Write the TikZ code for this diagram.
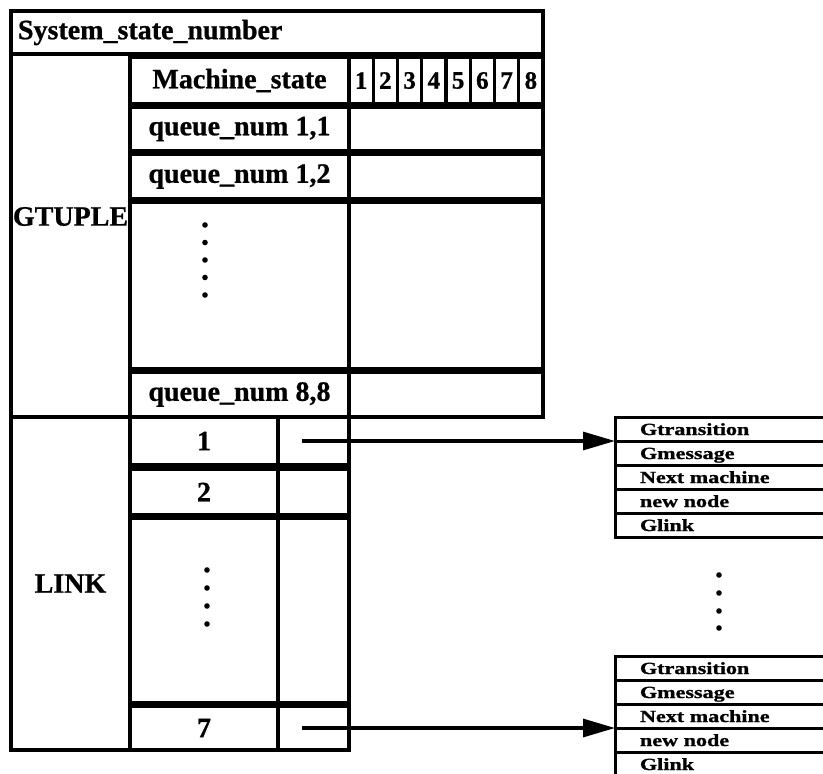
\documentclass[tikz,border=0pt]{standalone}
\usepackage{fontspec}
\setmainfont{Liberation Serif}[FakeBold=0.8]
\newfontfamily\wideserif[FakeStretch=1.3,FakeBold=1.2]{Liberation Serif}
\usetikzlibrary{arrows.meta,positioning}
\tikzset{
  cell/.style={rectangle, draw, line width=3.2pt, anchor=north west, inner sep=0pt, outer sep=0pt, font=\fontsize{28}{30}\selectfont\bfseries},
  numcell/.style={cell, minimum width=24.25pt, minimum height=47pt, font=\fontsize{25}{27}\selectfont\bfseries},
  field/.style={rectangle, draw, line width=3pt, anchor=north west, outer sep=0pt, minimum height=24pt, text width=165pt, inner xsep=25pt, inner ysep=0pt, text height=16pt, text depth=4pt, align=left, font=\wideserif\fontsize{17}{18}\selectfont\bfseries},
  arr/.style={-{Triangle[length=32pt,width=18pt]}, line width=3.2pt}
}

\begin{document}
\begin{tikzpicture}[x=1pt,y=-1pt]
\useasboundingbox (0,0) rectangle (823,774);

% GTUPLE
\node[cell, minimum width=532pt, minimum height=43pt, inner xsep=7pt, text width=518pt, align=left] (sysnum) at (11,11) {System\_state\_number};
\node[cell, minimum width=119pt, minimum height=363pt, label={[yshift=19pt, font=\fontsize{28}{30}\selectfont\bfseries]center:GTUPLE}] (gtuple) at (11,54) {};
\node[cell, minimum width=219pt, minimum height=47pt] (mstate) at (130,57) {Machine\_state};
\foreach \i in {1,...,8}
  \node[numcell] (ms\i) at ({349+24.25*(\i-1)},57) {\i};
\node[cell, minimum width=219pt, minimum height=44pt] (q11) at (130,107) {queue\_num 1,1};
\node[cell, minimum width=194pt, minimum height=44pt] (v11) at (349,107) {};
\node[cell, minimum width=219pt, minimum height=45pt] (q12) at (130,154) {queue\_num 1,2};
\node[cell, minimum width=194pt, minimum height=45pt] (v12) at (349,154) {};
\node[cell, minimum width=219pt, minimum height=167pt] (qdots) at (130,202) {};
\node[cell, minimum width=194pt, minimum height=167pt] (vdots) at (349,202) {};
\node[cell, minimum width=219pt, minimum height=45pt] (q88) at (130,372) {queue\_num 8,8};
\node[cell, minimum width=194pt, minimum height=45pt] (v88) at (349,372) {};
\foreach \y in {225,242.5,...,296}
  \fill (205,\y) circle (2.8pt);

% LINK
\node[cell, minimum width=119pt, minimum height=333pt] (link) at (11,417) {LINK};
\foreach \n/\t/\y/\h in {1/1/417/48, 2/2/469/46, d//518/185, 7/7/706/44} {
  \node[cell, minimum width=148pt, minimum height=\h pt] (l\n) at (130,\y) {\t};
  \node[cell, minimum width=71pt, minimum height=\h pt] (p\n) at (278,\y) {};
}
\foreach \y in {570,588,606,624}
  \fill (207,\y) circle (2.8pt);

% node records
\foreach \t [count=\i from 0] in {Gtransition,Gmessage,Next machine,new node,Glink}
  \node[field] (top\i) at (615,{417+24*\i}) {\t};
\foreach \t [count=\i from 0] in {Gtransition,Gmessage,Next machine,new node,Glink}
  \node[field] (bot\i) at (615,{656+24*\i}) {\t};
\foreach \y in {575,593,611,628}
  \fill (719,\y) circle (2.8pt);

\draw[arr] ([xshift=24pt]p1.west) -- (top0.south west);
\draw[arr] ([xshift=24pt]p7.west) -- (bot2.south west);
\end{tikzpicture}
\end{document}
